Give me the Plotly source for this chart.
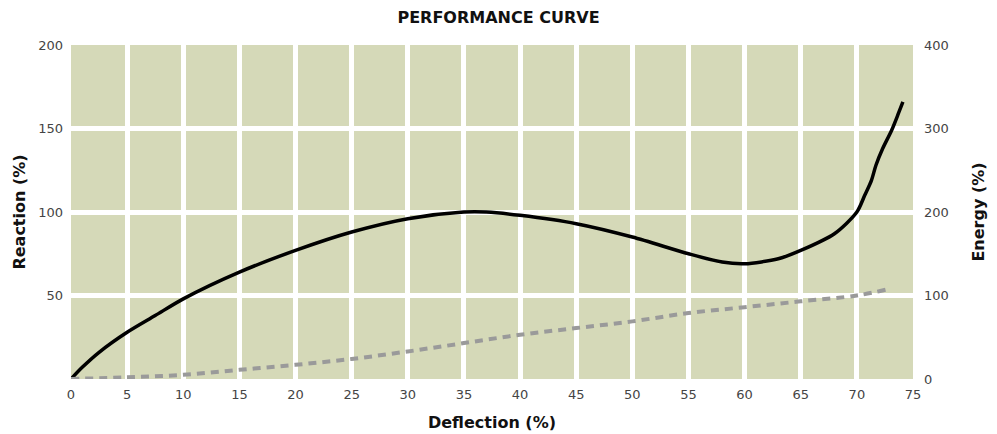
import plotly.graph_objects as go

# Reaction curve (left axis, %)
reaction_x = [0, 1, 2.5, 5, 7.5, 10, 15, 20, 25, 30, 35, 37, 40, 45, 50, 55, 58, 60, 63, 65, 68, 70,
              70.7, 71.3, 71.7, 72.3, 73.1, 73.7, 74.1]
reaction_y = [0, 7, 16, 28, 38, 48, 64, 77, 88, 96, 100, 100, 98, 93, 85, 75, 70, 69, 72, 77, 87, 100,
              110, 119, 128, 138, 149, 159, 166]

# Energy curve (right axis, %)
energy_x = [0, 5, 10, 15, 20, 25, 30, 35, 40, 45, 50, 55, 60, 65, 70, 72.6]
energy_y = [0, 2, 5, 11, 17, 24, 33, 43, 53, 61, 69, 79, 86, 93, 100, 107]

x_ticks = list(range(0, 80, 5))
left_ticks = [50, 100, 150, 200]
right_ticks = [0, 100, 200, 300, 400]

FONT = "'DejaVu Sans', sans-serif"
TITLE_FONT = dict(family=FONT, size=16, color="#111111")

fig = go.Figure()
fig.add_trace(go.Scatter(x=energy_x, y=energy_y, yaxis="y2", mode="lines",
                         line=dict(color="#9a9a9a", width=4, dash="8px,6px", shape="spline"),
                         showlegend=False, hoverinfo="skip"))
fig.add_trace(go.Scatter(x=reaction_x, y=reaction_y, mode="lines",
                         line=dict(color="#000000", width=3.5, shape="spline", smoothing=0.8),
                         showlegend=False, hoverinfo="skip"))

fig.update_layout(
    width=997, height=434,
    margin=dict(l=71, r=84, t=45, b=55),
    paper_bgcolor="white",
    plot_bgcolor="rgb(213,217,184)",
    font=dict(family=FONT, color="#444444", size=13),
    title=dict(text="<b>PERFORMANCE CURVE</b>", x=0.5, xanchor="center", y=0.96, yanchor="middle",
               font=TITLE_FONT),
    xaxis=dict(range=[0, 75], tickvals=x_ticks, showgrid=True, gridcolor="white", gridwidth=5,
               zeroline=False, showline=False, ticks="", ticklabelstandoff=6, automargin=False,
               title=dict(text="<b>Deflection (%)</b>", font=TITLE_FONT, standoff=15),
               fixedrange=True),
    yaxis=dict(range=[0, 200], tickvals=left_ticks, showgrid=True, gridcolor="white", gridwidth=5,
               zeroline=False, showline=False, ticks="", ticklabelstandoff=7, automargin=False,
               title=dict(text="<b>Reaction (%)</b>", font=TITLE_FONT, standoff=8)),
    yaxis2=dict(range=[0, 400], tickvals=right_ticks, overlaying="y", side="right", showgrid=False,
                zeroline=False, showline=False, ticks="", ticklabelstandoff=10, automargin=False,
                title=dict(text="<b>Energy (%)</b>", font=TITLE_FONT, standoff=24)),
)

fig.write_html("out.html", config={"displayModeBar": False},
               post_script="document.body.style.margin='0';")
